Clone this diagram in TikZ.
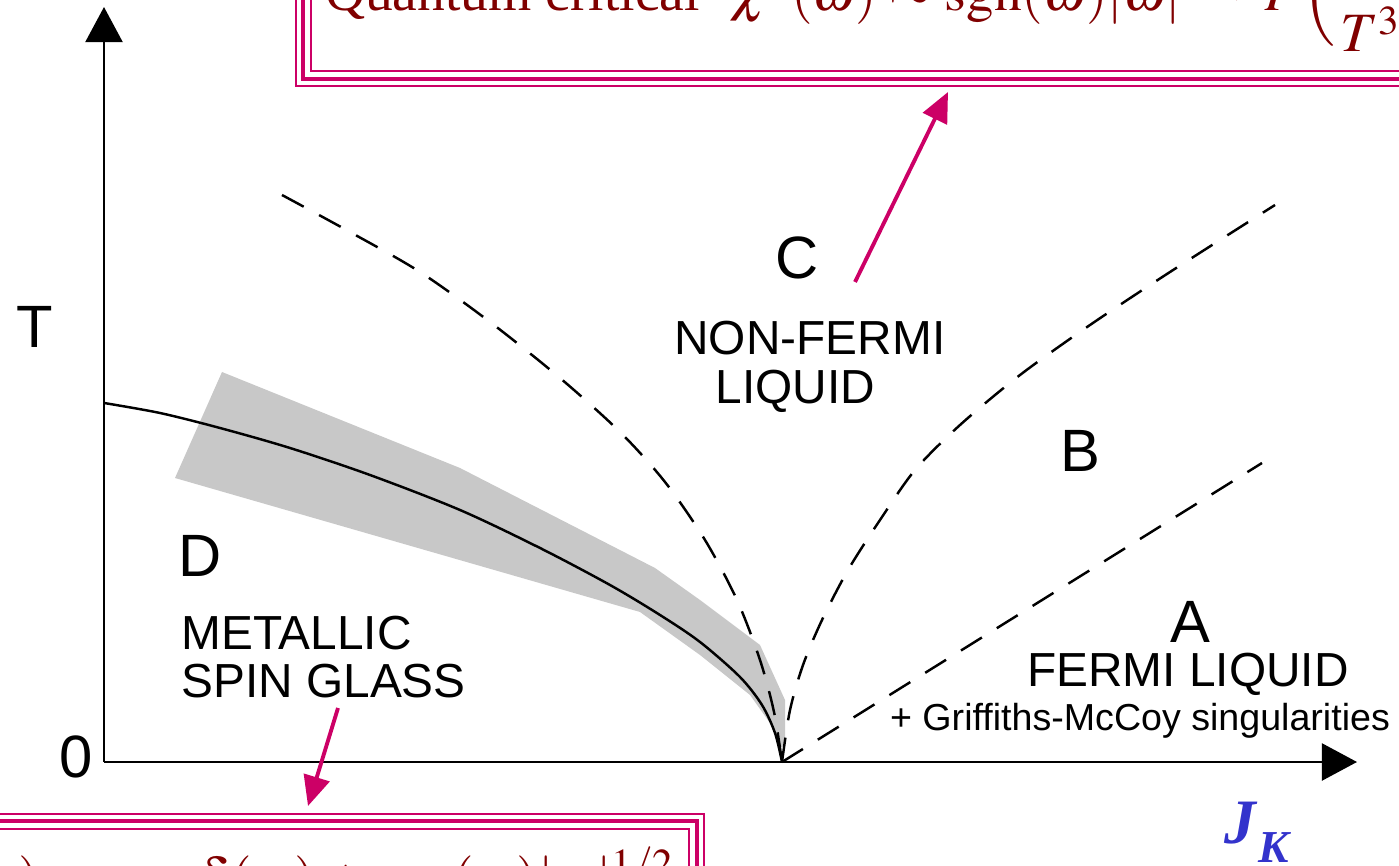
\documentclass[tikz,border=0pt]{standalone}
\usepackage{mathptmx}
\usepackage{fontspec}
\setmainfont{Liberation Serif}
\setsansfont{Liberation Sans}
\usetikzlibrary{arrows.meta}
\definecolor{framepink}{RGB}{204,0,102}
\definecolor{formulared}{RGB}{128,0,0}
\definecolor{couplingblue}{RGB}{51,51,204}
\definecolor{bandgray}{RGB}{200,200,200}
\tikzset{
  axis/.style={line width=0.85pt, -{Triangle[length=10pt, width=10.5pt]}},
  phaseline/.style={line width=0.7pt},
  crossover/.style={line width=0.7pt, dash pattern=on 7pt off 5pt},
  regionletter/.style={font=\sffamily\fontsize{17}{17}\selectfont, inner sep=0.5pt},
  phasename/.style={font=\sffamily\fontsize{13.6}{13.8}\selectfont, align=center, inner sep=0.5pt},
  smallnote/.style={font=\sffamily\fontsize{10.7}{12}\selectfont, inner sep=0.5pt},
  formula/.style={draw=framepink, line width=0.6pt, text=formulared, inner sep=4pt, font=\fontsize{15.8}{18}\selectfont},
  framemid/.style={draw=framepink, line width=1.4pt},
  frameout/.style={draw=framepink, line width=0.6pt},
  pointer/.style={draw=framepink, line width=1.1pt, -{Triangle[length=8.5pt, width=7.5pt]}}
}
\begin{document}
\begin{tikzpicture}[x=0.1mm, y=-0.1mm]
  \useasboundingbox (0,0) rectangle (1399,866);
  \clip (0,0) rectangle (1399,866);

  % uncertainty band round the spin glass line
  \fill[bandgray] (222,372) -- (460,468) -- (655,568) -- (700,600) -- (760,645) -- (785,700) -- (785,745)
    -- (780,748) -- (775,730) -- (750,695) -- (700,655) -- (640,612) -- (175,478) -- cycle;

  % axes
  \coordinate (origin) at (104,762);
  \coordinate (ttop) at (104,7);
  \coordinate (jend) at (1357,762);
  \coordinate (qcp) at (782,762);
  \draw[axis] (origin) -- (ttop);
  \draw[axis] (origin) -- (jend);
  \node[regionletter] (tlabel) at (35,327) {T};
  \node[regionletter] (zero) at (76,757) {0};
  \node[text=couplingblue, anchor=base west, inner sep=0pt, font=\fontsize{18}{18}\selectfont] (jk) at (1224,843)
    {\textbf{\textit{J}}\raisebox{-5.6pt}{\fontsize{13}{13}\selectfont\textbf{\textit{K}}}};

  % phase boundary and crossovers
  \draw[phaseline] plot[smooth] coordinates {(104,403) (160,413) (220,428) (290,448) (370,475) (460,510)
    (540,548) (610,585) (660,615) (700,642) (740,677) (762,705) (775,733) (782,762)};
  \draw[crossover] plot[smooth] coordinates {(282,195) (350,232) (420,272) (490,322) (560,378) (620,432)
    (665,482) (705,540) (737,600) (760,660) (774,712) (782,762)};
  \draw[crossover] plot[smooth] coordinates {(782,762) (790,710) (803,665) (822,620) (848,570) (880,520)
    (915,470) (960,425) (1020,375) (1090,325) (1170,272) (1275,205)};
  \coordinate (fltop) at (1262,463);
  \draw[crossover] (qcp) -- (fltop);

  % regions
  \node[regionletter] (lblC) at (797,258) {C};
  \node[phasename, align=left, anchor=west] (nfl) at (672,367) {NON-FERMI\\\hspace*{11.7pt}LIQUID};
  \node[regionletter] (lblB) at (1080,451) {B};
  \node[regionletter] (lblD) at (200,556) {D};
  \node[phasename, align=left, anchor=west] (msg) at (179,657) {METALLIC\\SPIN GLASS};
  \node[regionletter] (lblA) at (1190,622) {A};
  \node[phasename] (fl) at (1188,674) {FERMI LIQUID};
  \node[smallnote] (gmc) at (1140,721) {+ Griffiths-McCoy singularities};

  % formula boxes
  \node[formula, anchor=south west] (qcbox) at (310,72)
    {\rule[-13.2pt]{0pt}{1pt}Quantum critical\hspace{0.55em}$\chi''(\omega) \sim \mathrm{sgn}(\omega)|\omega|^{-1/2}\mkern-4mu F\mkern-2mu\left(\displaystyle\frac{\omega}{T^{3/2}}\right)$};
  \draw[framemid] ([shift={(-7,7)}]qcbox.south west) rectangle ([shift={(7,-7)}]qcbox.north east);
  \draw[frameout] ([shift={(-14,14)}]qcbox.south west) rectangle ([shift={(14,-14)}]qcbox.north east);

  \node[formula, anchor=north east] (sgbox) at (690,828)
    {\rule{0pt}{15.6pt}Spin glass\hspace{0.55em}$\chi''(\omega) \sim q_{EA}\,\delta(\omega) + \mathrm{sgn}(\omega)|\omega|^{1/2}$};
  \draw[framemid] ([shift={(-7,7)}]sgbox.south west) rectangle ([shift={(7,-7)}]sgbox.north east);
  \draw[frameout] ([shift={(-14,14)}]sgbox.south west) rectangle ([shift={(14,-14)}]sgbox.north east);

  % pointers
  \coordinate (qctail) at (855,282);
  \coordinate (qctip) at (948,92);
  \draw[pointer] (qctail) -- (qctip);
  \coordinate (sgtail) at (338,708);
  \coordinate (sgtip) at (308,806);
  \draw[pointer] (sgtail) -- (sgtip);
\end{tikzpicture}
\end{document}
